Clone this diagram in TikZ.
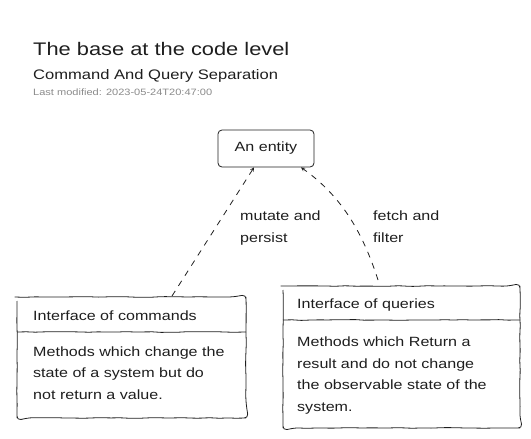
\documentclass[tikz,border=0pt]{standalone}
\usepackage{fontspec}
\setmainfont[FakeStretch=1.2]{Liberation Sans}
\usetikzlibrary{arrows,decorations.pathmorphing}

\definecolor{ink}{HTML}{1E1E1E}
\definecolor{faded}{HTML}{8A8A8A}

\tikzset{
  wobble/.style={decorate, decoration={random steps, segment length=9pt, amplitude=0.4pt}},
  sketch/.style={draw=ink, line width=0.8pt, rounded corners=4pt},
  txt/.style={text=ink, font=\fontsize{13.4}{21.5}\selectfont, anchor=base west, inner sep=0pt, align=left},
  link/.style={draw=ink, line width=0.8pt, dash pattern=on 6pt off 6pt, -stealth}
}

\begin{document}
\begin{tikzpicture}[x=1pt,y=-1pt]
\pgfmathsetseed{7}
\useasboundingbox (0,0) rectangle (531,439);
% headings
\node[txt, font=\fontsize{18.2}{20}\selectfont] (title) at (33,55) {The base at the code level};
\node[txt, font=\fontsize{13.8}{16}\selectfont] (sub) at (33,79) {Command And Query Separation};
\node[txt, text=faded, font=\fontsize{9.2}{10}\selectfont] (date) at (33,95) {Last modified: 2023-05-24T20:47:00};
% the entity
\node[sketch, minimum width=96pt, minimum height=37pt, text=ink, font=\fontsize{13.4}{15}\selectfont] (entity) at (266,148.5) {An entity};
% commands
\draw[sketch, wobble] (17,297) rectangle (246,418);
\draw[draw=ink, line width=0.8pt, wobble] (17,332) -- (246,332);
\node[txt] (cmdhead) at (33,320) {Interface of commands};
\node[txt] (cmdbody) at (33,399) {Methods which change the\\state of a system but do\\not return a value.};
\coordinate (cmdtop) at (172,296);
% queries
\draw[sketch, wobble] (283,286) rectangle (520,428);
\draw[draw=ink, line width=0.8pt, wobble] (283,320) -- (520,320);
\node[txt] (qryhead) at (297,308) {Interface of queries};
\node[txt] (qrybody) at (297,411) {Methods which Return a\\result and do not change\\the observable state of the\\system.};
\coordinate (qrytop) at (378,280);
% connectors
\draw[link] (cmdtop) -- (entity.south -| 254,0);
\draw[link] (qrytop) .. controls (362,230) and (340,195) .. (entity.south -| 301,0);
\node[txt] (mutlabel) at (240,242) {mutate and\\persist};
\node[txt] (fetlabel) at (373,242) {fetch and\\filter};
\end{tikzpicture}
\end{document}
